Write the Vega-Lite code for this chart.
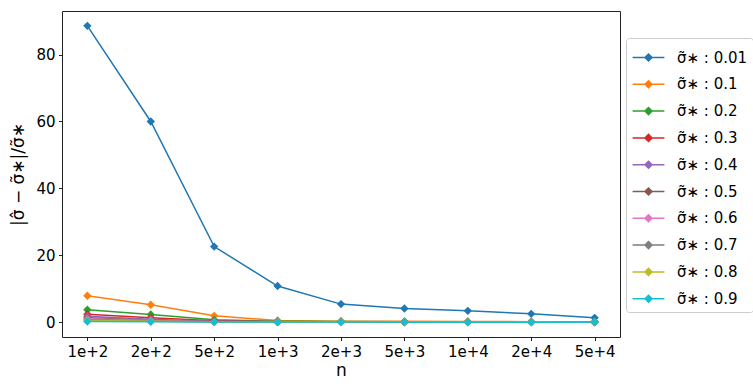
{
  "$schema": "https://vega.github.io/schema/vega-lite/v6.json",
  "width": 558,
  "height": 326,
  "autosize": {"type": "none"},
  "padding": {"left": 62, "top": 11, "right": 133, "bottom": 51},
  "background": "white",
  "config": {
    "font": "DejaVu Sans",
    "view": {"stroke": "#222222", "strokeWidth": 1},
    "axis": {"domain": false, "grid": false, "tickColor": "#222222", "tickSize": 3.5, "labelFontSize": 15, "labelColor": "black", "titleFontSize": 17, "titleFontWeight": "normal", "titleColor": "black", "labelFont": "DejaVu Sans", "titleFont": "DejaVu Sans"},
    "legend": {"labelFontSize": 15, "labelColor": "black", "labelFont": "DejaVu Sans"}
  },
  "data": {"values": [
    {"n":"1e+2","s":"0.01","y":88.6},{"n":"2e+2","s":"0.01","y":60.0},{"n":"5e+2","s":"0.01","y":22.6},{"n":"1e+3","s":"0.01","y":10.8},{"n":"2e+3","s":"0.01","y":5.4},{"n":"5e+3","s":"0.01","y":4.1},{"n":"1e+4","s":"0.01","y":3.4},{"n":"2e+4","s":"0.01","y":2.5},{"n":"5e+4","s":"0.01","y":1.3},
    {"n":"1e+2","s":"0.1","y":7.9},{"n":"2e+2","s":"0.1","y":5.2},{"n":"5e+2","s":"0.1","y":1.9},{"n":"1e+3","s":"0.1","y":0.5},{"n":"2e+3","s":"0.1","y":0.3},{"n":"5e+3","s":"0.1","y":0.25},{"n":"1e+4","s":"0.1","y":0.2},{"n":"2e+4","s":"0.1","y":0.15},{"n":"5e+4","s":"0.1","y":0.1},
    {"n":"1e+2","s":"0.2","y":3.7},{"n":"2e+2","s":"0.2","y":2.3},{"n":"5e+2","s":"0.2","y":0.7},{"n":"1e+3","s":"0.2","y":0.25},{"n":"2e+3","s":"0.2","y":0.2},{"n":"5e+3","s":"0.2","y":0.15},{"n":"1e+4","s":"0.2","y":0.12},{"n":"2e+4","s":"0.2","y":0.1},{"n":"5e+4","s":"0.2","y":0.08},
    {"n":"1e+2","s":"0.3","y":2.4},{"n":"2e+2","s":"0.3","y":1.3},{"n":"5e+2","s":"0.3","y":0.4},{"n":"1e+3","s":"0.3","y":0.15},{"n":"2e+3","s":"0.3","y":0.1},{"n":"5e+3","s":"0.3","y":0.1},{"n":"1e+4","s":"0.3","y":0.08},{"n":"2e+4","s":"0.3","y":0.06},{"n":"5e+4","s":"0.3","y":0.05},
    {"n":"1e+2","s":"0.4","y":1.8},{"n":"2e+2","s":"0.4","y":0.9},{"n":"5e+2","s":"0.4","y":0.3},{"n":"1e+3","s":"0.4","y":0.1},{"n":"2e+3","s":"0.4","y":0.08},{"n":"5e+3","s":"0.4","y":0.07},{"n":"1e+4","s":"0.4","y":0.06},{"n":"2e+4","s":"0.4","y":0.05},{"n":"5e+4","s":"0.4","y":0.04},
    {"n":"1e+2","s":"0.5","y":1.3},{"n":"2e+2","s":"0.5","y":0.6},{"n":"5e+2","s":"0.5","y":0.2},{"n":"1e+3","s":"0.5","y":0.08},{"n":"2e+3","s":"0.5","y":0.06},{"n":"5e+3","s":"0.5","y":0.05},{"n":"1e+4","s":"0.5","y":0.04},{"n":"2e+4","s":"0.5","y":0.04},{"n":"5e+4","s":"0.5","y":0.03},
    {"n":"1e+2","s":"0.6","y":1.0},{"n":"2e+2","s":"0.6","y":0.5},{"n":"5e+2","s":"0.6","y":0.15},{"n":"1e+3","s":"0.6","y":0.06},{"n":"2e+3","s":"0.6","y":0.05},{"n":"5e+3","s":"0.6","y":0.04},{"n":"1e+4","s":"0.6","y":0.03},{"n":"2e+4","s":"0.6","y":0.03},{"n":"5e+4","s":"0.6","y":0.02},
    {"n":"1e+2","s":"0.7","y":0.7},{"n":"2e+2","s":"0.7","y":0.35},{"n":"5e+2","s":"0.7","y":0.1},{"n":"1e+3","s":"0.7","y":0.05},{"n":"2e+3","s":"0.7","y":0.04},{"n":"5e+3","s":"0.7","y":0.03},{"n":"1e+4","s":"0.7","y":0.03},{"n":"2e+4","s":"0.7","y":0.02},{"n":"5e+4","s":"0.7","y":0.02},
    {"n":"1e+2","s":"0.8","y":0.5},{"n":"2e+2","s":"0.8","y":0.25},{"n":"5e+2","s":"0.8","y":0.08},{"n":"1e+3","s":"0.8","y":0.04},{"n":"2e+3","s":"0.8","y":0.03},{"n":"5e+3","s":"0.8","y":0.02},{"n":"1e+4","s":"0.8","y":0.02},{"n":"2e+4","s":"0.8","y":0.02},{"n":"5e+4","s":"0.8","y":0.01},
    {"n":"1e+2","s":"0.9","y":0.2},{"n":"2e+2","s":"0.9","y":0.1},{"n":"5e+2","s":"0.9","y":0.05},{"n":"1e+3","s":"0.9","y":0.02},{"n":"2e+3","s":"0.9","y":0.02},{"n":"5e+3","s":"0.9","y":0.01},{"n":"1e+4","s":"0.9","y":0.01},{"n":"2e+4","s":"0.9","y":0.01},{"n":"5e+4","s":"0.9","y":0.01}
  ]},
  "encoding": {
    "x": {"field": "n", "type": "ordinal", "sort": ["1e+2","2e+2","5e+2","1e+3","2e+3","5e+3","1e+4","2e+4","5e+4"], "scale": {"type": "point", "padding": 0.4}, "axis": {"title": "n", "labelAngle": 0, "labelPadding": 3.5, "titlePadding": 3}},
    "y": {"field": "y", "type": "quantitative", "scale": {"domain": [-4.43, 93.03], "nice": false, "zero": false}, "axis": {"title": "|σ̂ − σ̃∗|/σ̃∗", "values": [0, 20, 40, 60, 80], "labelPadding": 3.5, "titlePadding": 8}},
    "color": {"field": "s", "type": "nominal", "sort": ["0.01","0.1","0.2","0.3","0.4","0.5","0.6","0.7","0.8","0.9"], "scale": {"scheme": "category10"},
      "legend": {"title": null, "orient": "none", "legendX": 564, "legendY": 27, "labelExpr": "'σ̃∗ : ' + datum.label", "symbolType": "M-1.18,0H1.18M0,-0.26L0.26,0L0,0.26L-0.26,0Z", "symbolSize": 729, "symbolStrokeWidth": 1.5, "rowPadding": 3.8, "labelOffset": 14, "padding": 5, "symbolOffset": 3, "strokeColor": "#cccccc", "cornerRadius": 3, "fillColor": "white",
        "encode": {"symbols": {"update": {"stroke": {"scale": "color", "field": "value"}, "strokeWidth": {"value": 1.5}}}}}}
  },
  "layer": [
    {"mark": {"type": "line", "strokeWidth": 1.5}},
    {"mark": {"type": "point", "shape": "diamond", "filled": true, "size": 70, "opacity": 1}}
  ]
}
